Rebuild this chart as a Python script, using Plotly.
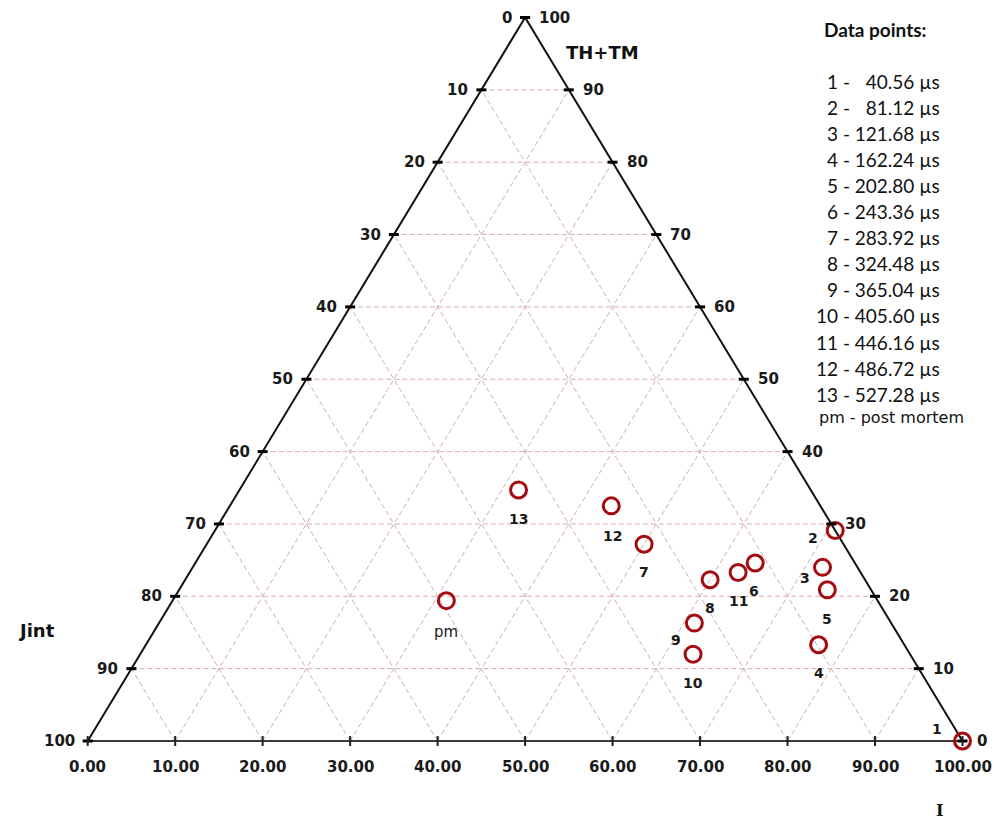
import plotly.graph_objects as go

# ---------------- data ----------------
point_labels = ["1", "2", "3", "4", "5", "6", "7", "8", "9", "10", "11", "12", "13", "pm"]
I_values = [100.0, 70.9, 72.0, 76.9, 74.1, 64.0, 50.0, 60.0, 61.2, 63.2, 62.7, 43.6, 31.9, 31.3]
THTM_values = [0.0, 29.1, 24.0, 13.3, 20.9, 24.6, 27.2, 22.3, 16.3, 12.0, 23.3, 32.5, 34.7, 19.4]
Jint_values = [0.0, 0.0, 4.0, 9.8, 5.0, 11.4, 22.8, 17.7, 22.5, 24.8, 14.0, 23.9, 33.4, 49.3]

time_labels = ["40.56", "81.12", "121.68", "162.24", "202.80", "243.36", "283.92",
               "324.48", "365.04", "405.60", "446.16", "486.72", "527.28"]
pm_label = "pm - post mortem"

grid_levels = [10, 20, 30, 40, 50, 60, 70, 80, 90]
tick_levels = [0, 10, 20, 30, 40, 50, 60, 70, 80, 90, 100]
bottom_tick_labels = ["0.00", "10.00", "20.00", "30.00", "40.00", "50.00",
                      "60.00", "70.00", "80.00", "90.00", "100.00"]

# label offsets in pixels (style only)
label_dx = [-26, -22, -18, 0, 0, -1, 0, 0, -18, 0, 0, 1, 0, 0]
label_dy = [12, -8, -11, -28, -29, -28, -28, -28, -17, -29, -29, -30, -29, -31]

# ---------------- helpers ----------------
def to_xy(i_val, t_val, j_val):
    tot = i_val + t_val + j_val
    i_n = i_val / tot * 100.0
    t_n = t_val / tot * 100.0
    return i_n + t_n / 2.0, t_n

xs, ys = [], []
for a, b, c in zip(I_values, THTM_values, Jint_values):
    x, y = to_xy(a, b, c)
    xs.append(x)
    ys.append(y)

GRID_COLOR = "rgb(214,172,172)"
RED = "rgb(165,12,18)"
TICK_FONT = dict(family="DejaVu Sans", size=15, color="#1a1a1a")

fig = go.Figure()

# grid lines
gx, gy = [], []
for k in grid_levels:
    # constant TH+TM (horizontal)
    gx += [k / 2.0, 100 - k / 2.0, None]
    gy += [k, k, None]
    # constant I (parallel to left side)
    gx += [k, k + (100 - k) / 2.0, None]
    gy += [0, 100 - k, None]
    # constant Jint (parallel to right side)
    gx += [100 - k, (100 - k) / 2.0, None]
    gy += [0, 100 - k, None]
fig.add_trace(go.Scatter(x=gx, y=gy, mode="lines", hoverinfo="skip",
                         line=dict(color=GRID_COLOR, width=1, dash="5px,3px")))

# triangle sides
fig.add_trace(go.Scatter(x=[0, 50, 100], y=[0, 100, 0], mode="lines", hoverinfo="skip",
                         line=dict(color="#111111", width=2)))
fig.add_trace(go.Scatter(x=[0, 100], y=[0, 0], mode="lines", hoverinfo="skip",
                         line=dict(color="#3a3a3a", width=2)))

# data markers
fig.add_trace(go.Scatter(x=xs, y=ys, mode="markers", hoverinfo="text", text=point_labels,
                         marker=dict(symbol="circle-open", size=16, color=RED,
                                     line=dict(color=RED, width=3))))

shapes = []
# side ticks (horizontal dashes)
for k in tick_levels:
    for xc in (k / 2.0, 100 - k / 2.0):
        shapes.append(dict(type="line", xref="x", yref="y", xsizemode="pixel", xanchor=xc,
                           x0=-5, x1=5, y0=k, y1=k, line=dict(color="#000000", width=3)))
# bottom ticks (vertical)
for k in tick_levels:
    shapes.append(dict(type="line", xref="x", yref="y", ysizemode="pixel", yanchor=0,
                       x0=k, x1=k, y0=-5, y1=5, line=dict(color="#222222", width=2)))

annotations = []
# left side labels (Jint)
for k in tick_levels:
    annotations.append(dict(x=k / 2.0, y=k, xref="x", yref="y", text="<b>%d</b>" % (100 - k),
                            showarrow=False, xanchor="right", yanchor="middle", xshift=-11,
                            font=TICK_FONT))
# right side labels (TH+TM)
for k in tick_levels:
    annotations.append(dict(x=100 - k / 2.0, y=k, xref="x", yref="y", text="<b>%d</b>" % k,
                            showarrow=False, xanchor="left", yanchor="middle", xshift=12,
                            font=TICK_FONT))
# bottom labels (I)
for k, lab in zip(tick_levels, bottom_tick_labels):
    annotations.append(dict(x=k, y=0, xref="x", yref="y", text="<b>%s</b>" % lab,
                            showarrow=False, xanchor="center", yanchor="middle", yshift=-26,
                            font=TICK_FONT))

# point labels
for lab, x, y, dx, dy in zip(point_labels, xs, ys, label_dx, label_dy):
    txt = lab if lab == "pm" else "<b>%s</b>" % lab
    annotations.append(dict(x=x, y=y, xref="x", yref="y", text=txt, showarrow=False,
                            xanchor="center", yanchor="middle", xshift=dx, yshift=dy,
                            font=dict(family="DejaVu Sans", size=14 if lab != "pm" else 15,
                                      color="#1a1a1a")))

# axis titles
annotations.append(dict(x=0.601, y=1 - 53 / 822, xref="paper", yref="paper", text="<b>TH+TM</b>",
                        showarrow=False, xanchor="center", yanchor="middle",
                        font=dict(family="DejaVu Sans", size=18, color="#111111")))
annotations.append(dict(x=36 / 1003, y=1 - 630 / 822, xref="paper", yref="paper", text="<b>Jint</b>",
                        showarrow=False, xanchor="center", yanchor="middle",
                        font=dict(family="DejaVu Sans", size=18, color="#111111")))
annotations.append(dict(x=939 / 1003, y=1 - 810 / 822, xref="paper", yref="paper", text="<b>I</b>",
                        showarrow=False, xanchor="center", yanchor="middle",
                        font=dict(family="DejaVu Serif", size=16, color="#111111")))

# legend text block
annotations.append(dict(x=875 / 1003, y=1 - 29 / 822, xref="paper", yref="paper",
                        text="<b>Data points:</b>", showarrow=False, xanchor="center",
                        yanchor="middle", font=dict(family="Lato", size=19, color="#111111")))
for n, t in enumerate(time_labels):
    num = point_labels[n]
    pad = "\u2007" * (6 - len(t))
    txt = "%s - %s%s µs" % (num, pad, t)
    ypx = 81.5 + 26.05 * n
    annotations.append(dict(x=942 / 1003, y=1 - ypx / 822, xref="paper", yref="paper",
                            text=txt, showarrow=False, xanchor="right", yanchor="middle",
                            font=dict(family="Lato", size=19, color="#111111")))
annotations.append(dict(x=891 / 1003, y=1 - 417 / 822, xref="paper", yref="paper",
                        text=pm_label, showarrow=False, xanchor="center", yanchor="middle",
                        font=dict(family="DejaVu Sans", size=16, color="#111111")))

# pixel mapping: x 0->87.7px, 100->962.5px ; y 0->741px, 100->17.5px
kx = (962.5 - 87.7) / 100.0
ky = (741 - 17.5) / 100.0
x_range = [-87.7 / kx, (1003 - 87.7) / kx]
y_range = [-(822 - 741) / ky, 741 / ky]

fig.update_layout(
    width=1003, height=822,
    margin=dict(l=0, r=0, t=0, b=0, pad=0),
    paper_bgcolor="white", plot_bgcolor="white",
    showlegend=False,
    xaxis=dict(range=x_range, visible=False, fixedrange=True),
    yaxis=dict(range=y_range, visible=False, fixedrange=True),
    shapes=shapes,
    annotations=annotations,
)

fig.write_html("out.html", config={"displayModeBar": False},
               post_script="document.body.style.margin='0px';")
